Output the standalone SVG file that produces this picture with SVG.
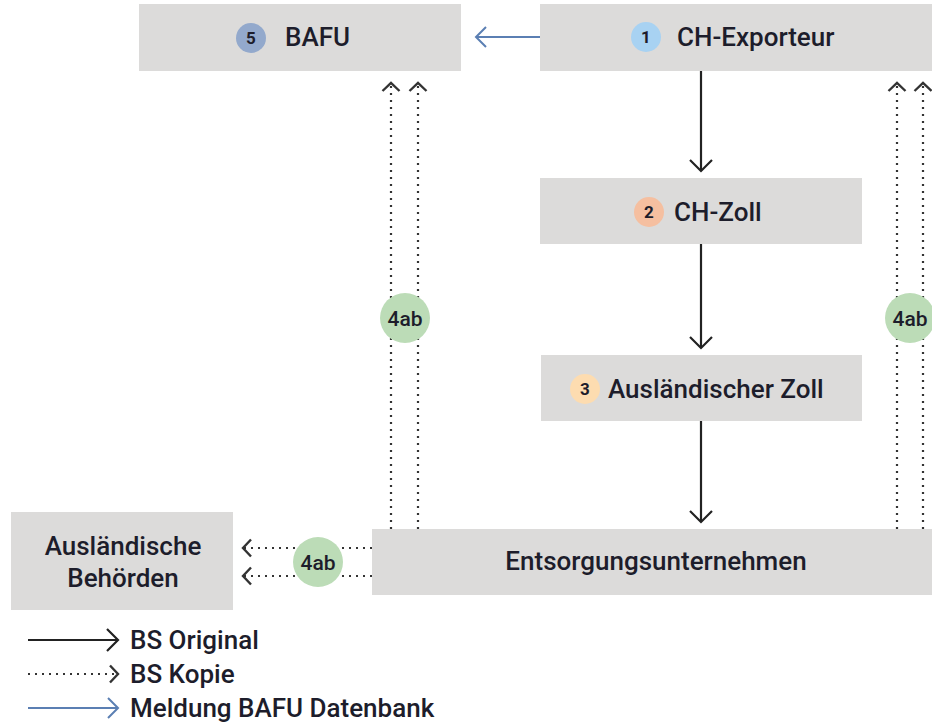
<svg xmlns="http://www.w3.org/2000/svg" width="932" height="723" viewBox="0 0 932 723">
<style>
.box{fill:#dcdbda}
.lbl{font-family:Roboto,"Liberation Sans",Arial,sans-serif;font-weight:500;font-size:26px;fill:#1d1d2b}
.num{font-family:Roboto,"Liberation Sans",Arial,sans-serif;font-weight:700;font-size:17px;fill:#1d1d2b;text-anchor:middle}
.tag{font-family:Roboto,"Liberation Sans",Arial,sans-serif;font-weight:500;font-size:21px;fill:#1d1d2b;text-anchor:middle}
.solid{stroke:#222;stroke-width:2.2;fill:none}
.dot{stroke:#333;stroke-width:2.2;stroke-dasharray:2 5;fill:none}
.blue{stroke:#5b7fb3;stroke-width:2;fill:none}
.g4{fill:#bcdcb7}
</style>
<defs>
<marker id="mBlack" markerUnits="userSpaceOnUse" viewBox="-14 -14 16 28" markerWidth="16" markerHeight="28" refX="0" refY="0" orient="auto" overflow="visible">
<path d="M-11,-11 L0,0 L-11,11" fill="none" stroke="#222" stroke-width="2.2"/>
</marker>
<marker id="mDot" markerUnits="userSpaceOnUse" viewBox="-14 -14 16 28" markerWidth="16" markerHeight="28" refX="0" refY="0" orient="auto" overflow="visible">
<path d="M-8,-8.5 L0,0 L-8,8.5" fill="none" stroke="#333" stroke-width="2.4"/>
</marker>
<marker id="mBlue" markerUnits="userSpaceOnUse" viewBox="-14 -14 16 28" markerWidth="16" markerHeight="28" refX="0" refY="0" orient="auto" overflow="visible">
<path d="M-10,-10 L0,0 L-10,10" fill="none" stroke="#5b7fb3" stroke-width="2"/>
</marker>
</defs>
<rect width="932" height="723" fill="#ffffff"/>

<g id="connectors">
<line class="blue" x1="540" y1="37" x2="476" y2="37" marker-end="url(#mBlue)"/>
<line class="solid" x1="701" y1="71" x2="701" y2="171" marker-end="url(#mBlack)"/>
<line class="solid" x1="701" y1="244" x2="701" y2="348" marker-end="url(#mBlack)"/>
<line class="solid" x1="701" y1="421" x2="701" y2="522" marker-end="url(#mBlack)"/>
<line class="dot" x1="391" y1="529" x2="391" y2="83" marker-end="url(#mDot)"/>
<line class="dot" x1="418" y1="529" x2="418" y2="83" marker-end="url(#mDot)"/>
<line class="dot" x1="897" y1="529" x2="897" y2="83" marker-end="url(#mDot)"/>
<line class="dot" x1="923" y1="529" x2="923" y2="83" marker-end="url(#mDot)"/>
<line class="dot" x1="372" y1="548" x2="243" y2="548" marker-end="url(#mDot)"/>
<line class="dot" x1="372" y1="576" x2="243" y2="576" marker-end="url(#mDot)"/>
<circle class="g4" cx="405" cy="318" r="25"/>
<text class="tag" x="405" y="325.5">4ab</text>
<circle class="g4" cx="910" cy="318" r="25"/>
<text class="tag" x="910" y="325.5">4ab</text>
<circle class="g4" cx="318" cy="562" r="25"/>
<text class="tag" x="318" y="569.5">4ab</text>
</g>

<g id="bafu">
<rect class="box" x="139" y="4" width="322" height="67"/>
<circle cx="251" cy="38" r="15" fill="#93a9cc"/>
<text class="num" x="251" y="44">5</text>
<text class="lbl" x="285" y="46">BAFU</text>
</g>

<g id="ch-exporteur">
<rect class="box" x="540" y="4" width="392" height="67"/>
<circle cx="646" cy="37" r="15" fill="#a8d2f2"/>
<text class="num" x="646" y="43">1</text>
<text class="lbl" x="677" y="46">CH-Exporteur</text>
</g>

<g id="ch-zoll">
<rect class="box" x="540" y="178" width="322" height="66"/>
<circle cx="649" cy="212" r="15" fill="#f5bfa0"/>
<text class="num" x="649" y="218">2</text>
<text class="lbl" x="674" y="221">CH-Zoll</text>
</g>

<g id="auslaendischer-zoll">
<rect class="box" x="541" y="355" width="321" height="66"/>
<circle cx="585" cy="389" r="15" fill="#fddcb0"/>
<text class="num" x="585" y="395">3</text>
<text class="lbl" x="608" y="398">Ausländischer Zoll</text>
</g>

<g id="entsorgungsunternehmen">
<rect class="box" x="372" y="529" width="560" height="66"/>
<text class="lbl" x="656" y="570" text-anchor="middle">Entsorgungsunternehmen</text>
</g>

<g id="auslaendische-behoerden">
<rect class="box" x="11" y="512" width="222" height="98"/>
<text class="lbl" x="123" y="555" text-anchor="middle">Ausländische</text>
<text class="lbl" x="123" y="587" text-anchor="middle">Behörden</text>
</g>

<g id="legend">
<line class="solid" x1="28" y1="640" x2="118" y2="640" marker-end="url(#mBlack)"/>
<text class="lbl" x="130" y="649">BS Original</text>
<line class="dot" x1="28" y1="674" x2="118" y2="674" marker-end="url(#mDot)"/>
<text class="lbl" x="130" y="683">BS Kopie</text>
<line class="blue" x1="28" y1="708" x2="118" y2="708" marker-end="url(#mBlue)"/>
<text class="lbl" x="130" y="717">Meldung BAFU Datenbank</text>
</g>
</svg>
